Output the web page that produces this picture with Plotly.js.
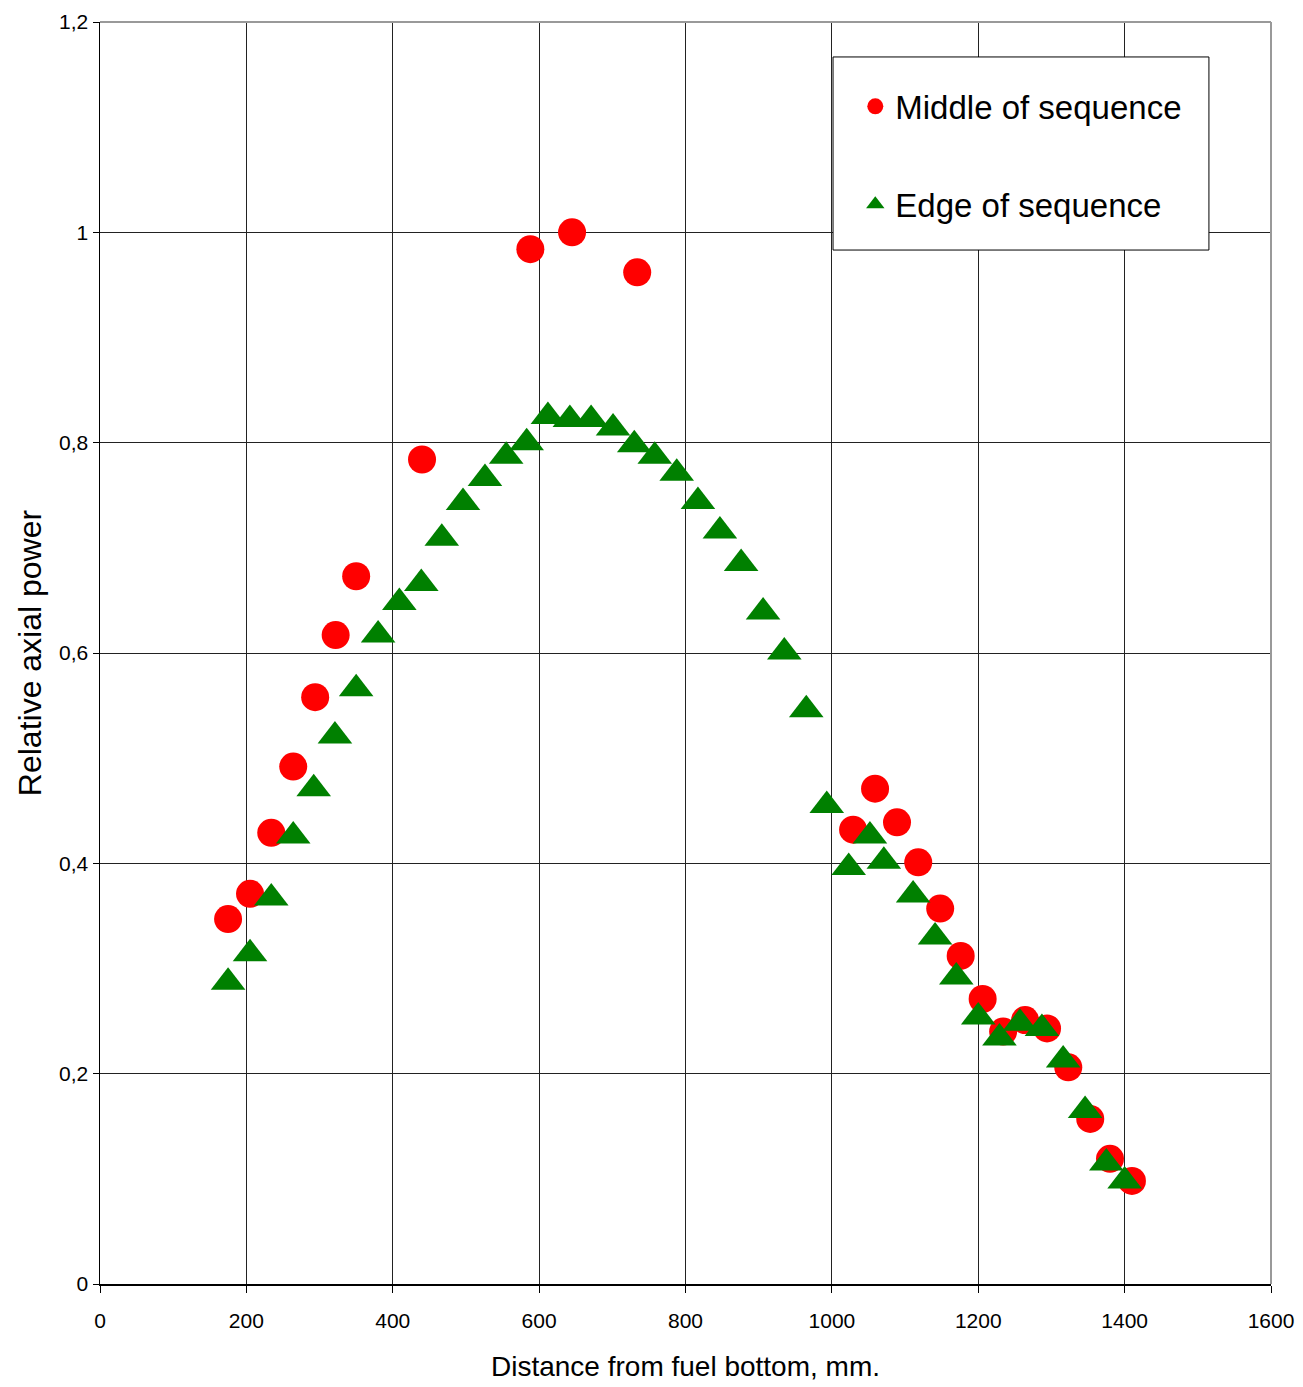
<!DOCTYPE html>
<html>
<head>
<meta charset="utf-8">
<script src="https://cdn.plot.ly/plotly-3.0.1.min.js"></script>
<style>html,body{margin:0;padding:0;background:#fff;}#chart{width:1303px;height:1387px;}</style>
</head>
<body>
<div id="chart"></div>
<script>
// Middle of sequence (red circles)
const middleX = [175, 205, 234, 264, 294, 322, 350, 440, 588, 645, 734, 1029, 1059, 1089, 1118, 1148, 1176, 1206, 1234, 1264, 1294, 1323, 1353, 1380, 1410];
const middleY = [0.347, 0.371, 0.429, 0.492, 0.558, 0.617, 0.673, 0.784, 0.984, 1.000, 0.962, 0.432, 0.471, 0.439, 0.401, 0.357, 0.312, 0.271, 0.240, 0.251, 0.243, 0.206, 0.157, 0.119, 0.098];

// Edge of sequence (green triangles)
const edgeX = [175, 205, 234, 264, 292, 321, 350, 380, 409, 439, 467, 496, 526, 555, 583, 612, 642, 671, 701, 730, 758, 788, 817, 847, 876, 906, 935, 965, 993, 1023, 1052, 1071, 1111, 1141, 1170, 1200, 1229, 1257, 1287, 1316, 1346, 1375, 1400];
const edgeY = [0.287, 0.314, 0.367, 0.426, 0.471, 0.521, 0.566, 0.617, 0.648, 0.666, 0.709, 0.743, 0.766, 0.787, 0.800, 0.825, 0.822, 0.822, 0.814, 0.798, 0.787, 0.771, 0.744, 0.716, 0.685, 0.639, 0.601, 0.546, 0.455, 0.396, 0.426, 0.402, 0.370, 0.330, 0.292, 0.254, 0.234, 0.248, 0.243, 0.213, 0.165, 0.115, 0.098];

const xTickVals = [0, 200, 400, 600, 800, 1000, 1200, 1400, 1600];
const xTickText = ['0', '200', '400', '600', '800', '1000', '1200', '1400', '1600'];
const yTickVals = [0, 0.2, 0.4, 0.6, 0.8, 1.0, 1.2];
const yTickText = ['0', '0,2', '0,4', '0,6', '0,8', '1', '1,2'];

const seriesNames = ['Middle of sequence', 'Edge of sequence'];

const baseFont = '"Liberation Sans", Arial, Helvetica, sans-serif';

const traces = [
  {
    x: middleX, y: middleY, type: 'scatter', mode: 'markers', name: seriesNames[0],
    legendgroup: 'a',
    marker: {symbol: 'circle', size: 28, color: '#ff0000', line: {width: 0}},
    cliponaxis: false
  },
  {
    x: edgeX, y: edgeY, type: 'scatter', mode: 'markers', name: seriesNames[1],
    legendgroup: 'b',
    marker: {symbol: 'triangle-up', size: 30, color: '#008000', line: {width: 0}},
    cliponaxis: false
  }
];

const layout = {
  width: 1303, height: 1387,
  margin: {l: 100, r: 32, t: 22, b: 103},
  paper_bgcolor: '#ffffff', plot_bgcolor: '#ffffff',
  showlegend: true,
  legend: {
    x: 0.645, y: 0.9553, xanchor: 'left', yanchor: 'top',
    bgcolor: 'rgba(0,0,0,0)', borderwidth: 0,
    font: {family: baseFont, size: 33, color: '#000'},
    traceorder: 'grouped', tracegroupgap: 52
  },
  xaxis: {
    range: [0, 1600], tickvals: xTickVals, ticktext: xTickText,
    showgrid: true, gridcolor: '#222', gridwidth: 1,
    showline: true, linecolor: '#000', linewidth: 1.5,
    ticks: 'outside', ticklen: 7, tickcolor: '#000', tickwidth: 1,
    ticklabelstandoff: 10,
    zeroline: false,
    tickfont: {family: baseFont, size: 21, color: '#000'},
    title: {text: 'Distance from fuel bottom, mm.', font: {family: baseFont, size: 28, color: '#000'}, standoff: 25}
  },
  yaxis: {
    range: [0, 1.2], tickvals: yTickVals, ticktext: yTickText,
    showgrid: true, gridcolor: '#222', gridwidth: 1,
    showline: true, linecolor: '#000', linewidth: 1.5,
    ticks: 'outside', ticklen: 6, tickcolor: '#000', tickwidth: 1,
    zeroline: false,
    tickfont: {family: baseFont, size: 21, color: '#000'},
    title: {text: 'Relative axial power', font: {family: baseFont, size: 32, color: '#000'}, standoff: 8}
  },
  shapes: [
    {type: 'line', xref: 'paper', yref: 'paper', x0: 0, x1: 1, y0: 1, y1: 1, line: {color: '#999', width: 2}, layer: 'above'},
    {type: 'line', xref: 'paper', yref: 'paper', x0: 1, x1: 1, y0: 0, y1: 1, line: {color: '#999', width: 2}, layer: 'above'},
    {type: 'rect', xref: 'paper', yref: 'paper', x0: 0.626, x1: 0.947, y0: 0.8193, y1: 0.9723,
     fillcolor: '#ffffff', line: {color: '#000', width: 1}, layer: 'above'}
  ]
};

Plotly.newPlot('chart', traces, layout, {displayModeBar: false, staticPlot: true});
</script>
</body>
</html>
